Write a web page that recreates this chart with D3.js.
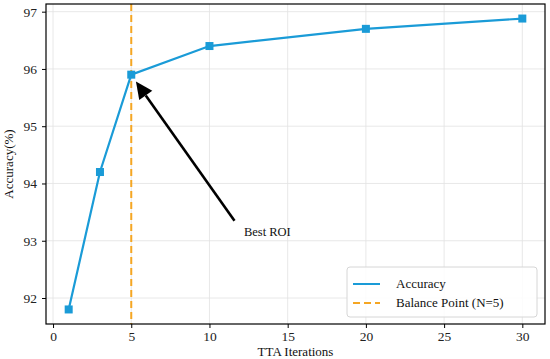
<!DOCTYPE html>
<html>
<head>
<meta charset="utf-8">
<script src="https://cdn.jsdelivr.net/npm/d3@7"></script>
<style>
  body { margin: 0; background: #fff; }
  svg { display: block; font-family: "Liberation Serif", "Times New Roman", serif; }
</style>
</head>
<body>
<div id="chart"></div>
<script>
// TTA iterations vs accuracy
const iterations = [1, 3, 5, 10, 20, 30];
const accuracy   = [91.8, 94.2, 95.9, 96.4, 96.7, 96.88];
const xTicks = [0, 5, 10, 15, 20, 25, 30];
const yTicks = [92, 93, 94, 95, 96, 97];
const balanceN = 5;
const legendLabels = ['Accuracy', 'Balance Point (N=5)'];
// annotation: arrow tip, arrow tail, text anchor (data units)
const arrowTip  = [5.3, 95.78];
const arrowTail = [11.6, 93.35];
const noteAt    = [12.2, 93.08];
const noteText  = 'Best ROI';

const W = 550, H = 359;
const margin = { top: 4, right: 5, bottom: 35, left: 46 };
const BLUE = '#1a9bd7', ORANGE = '#f5a623';

const svg = d3.select('#chart').append('svg').attr('width', W).attr('height', H);

const x = d3.scaleLinear().domain([-0.45, 31.45]).range([margin.left, W - margin.right]);
const y = d3.scaleLinear().domain([91.546, 97.134]).range([H - margin.bottom, margin.top]);

// grid
const grid = svg.append('g').attr('stroke', '#e2e2e2').attr('stroke-width', 0.8);
xTicks.forEach(t => grid.append('line')
  .attr('x1', x(t)).attr('x2', x(t)).attr('y1', y.range()[1]).attr('y2', y.range()[0]));
yTicks.forEach(t => grid.append('line')
  .attr('x1', x.range()[0]).attr('x2', x.range()[1]).attr('y1', y(t)).attr('y2', y(t)));

// balance line
svg.append('line')
  .attr('x1', x(balanceN)).attr('x2', x(balanceN))
  .attr('y1', y.range()[1]).attr('y2', y.range()[0])
  .attr('stroke', ORANGE).attr('stroke-width', 2).attr('stroke-dasharray', '7,4');

// accuracy line
const pts = iterations.map((v, i) => [v, accuracy[i]]);
svg.append('path').datum(pts)
  .attr('fill', 'none').attr('stroke', BLUE).attr('stroke-width', 2.2)
  .attr('d', d3.line().x(d => x(d[0])).y(d => y(d[1])));
svg.selectAll('rect.pt').data(pts).join('rect').attr('class', 'pt')
  .attr('x', d => x(d[0]) - 4).attr('y', d => y(d[1]) - 4)
  .attr('width', 8).attr('height', 8).attr('fill', BLUE);

// annotation arrow
const tx = x(arrowTail[0]), ty = y(arrowTail[1]);
const hx = x(arrowTip[0]), hy = y(arrowTip[1]);
const ang = Math.atan2(hy - ty, hx - tx);
const headL = 17, headW = 8;
const bx = hx - headL * Math.cos(ang), by = hy - headL * Math.sin(ang);
svg.append('line').attr('x1', tx).attr('y1', ty).attr('x2', bx).attr('y2', by)
  .attr('stroke', '#000').attr('stroke-width', 2.6);
svg.append('path')
  .attr('d', `M${hx},${hy}L${bx + headW * Math.sin(ang)},${by - headW * Math.cos(ang)}` +
             `L${bx - headW * Math.sin(ang)},${by + headW * Math.cos(ang)}Z`)
  .attr('fill', '#000');
svg.append('text').attr('x', x(noteAt[0])).attr('y', y(noteAt[1]))
  .attr('font-size', 12.5).attr('fill', '#111').text(noteText);

// axes
const xAxis = svg.append('g').attr('transform', `translate(0,${H - margin.bottom})`)
  .call(d3.axisBottom(x).tickValues(xTicks).tickFormat(d3.format('d'))
    .tickSizeInner(4).tickSizeOuter(0).tickPadding(3));
const yAxis = svg.append('g').attr('transform', `translate(${margin.left},0)`)
  .call(d3.axisLeft(y).tickValues(yTicks).tickFormat(d3.format('d'))
    .tickSizeInner(4).tickSizeOuter(0).tickPadding(5));
[xAxis, yAxis].forEach(a => {
  a.select('.domain').remove();
  a.attr('font-family', '"Liberation Serif", "Times New Roman", serif');
  a.selectAll('text').attr('font-size', 13.5).attr('fill', '#222');
  a.selectAll('line').attr('stroke', '#000');
});

// frame
svg.append('rect')
  .attr('x', margin.left).attr('y', margin.top)
  .attr('width', W - margin.left - margin.right).attr('height', H - margin.top - margin.bottom)
  .attr('fill', 'none').attr('stroke', '#000').attr('stroke-width', 1.2);

// axis labels
svg.append('text').attr('x', (margin.left + W - margin.right) / 2).attr('y', H - 3)
  .attr('text-anchor', 'middle').attr('font-size', 13).attr('fill', '#111').text('TTA Iterations');
svg.append('text')
  .attr('transform', `translate(13,${(margin.top + H - margin.bottom) / 2}) rotate(-90)`)
  .attr('text-anchor', 'middle').attr('font-size', 13).attr('fill', '#111').text('Accuracy(%)');

// legend
const lg = svg.append('g').attr('transform', 'translate(347,267)');
lg.append('rect').attr('width', 190).attr('height', 50).attr('rx', 3)
  .attr('fill', '#fff').attr('fill-opacity', 0.85).attr('stroke', '#d6d6d6');
const legendStyles = [{ c: BLUE, dash: null }, { c: ORANGE, dash: '7,4' }];
legendLabels.forEach((lbl, i) => {
  const yy = 17 + i * 19;
  lg.append('line').attr('x1', 6).attr('x2', 33).attr('y1', yy).attr('y2', yy)
    .attr('stroke', legendStyles[i].c).attr('stroke-width', 2)
    .attr('stroke-dasharray', legendStyles[i].dash);
  lg.append('text').attr('x', 49).attr('y', yy + 4).attr('font-size', 13)
    .attr('fill', '#111').text(lbl);
});
</script>
</body>
</html>
